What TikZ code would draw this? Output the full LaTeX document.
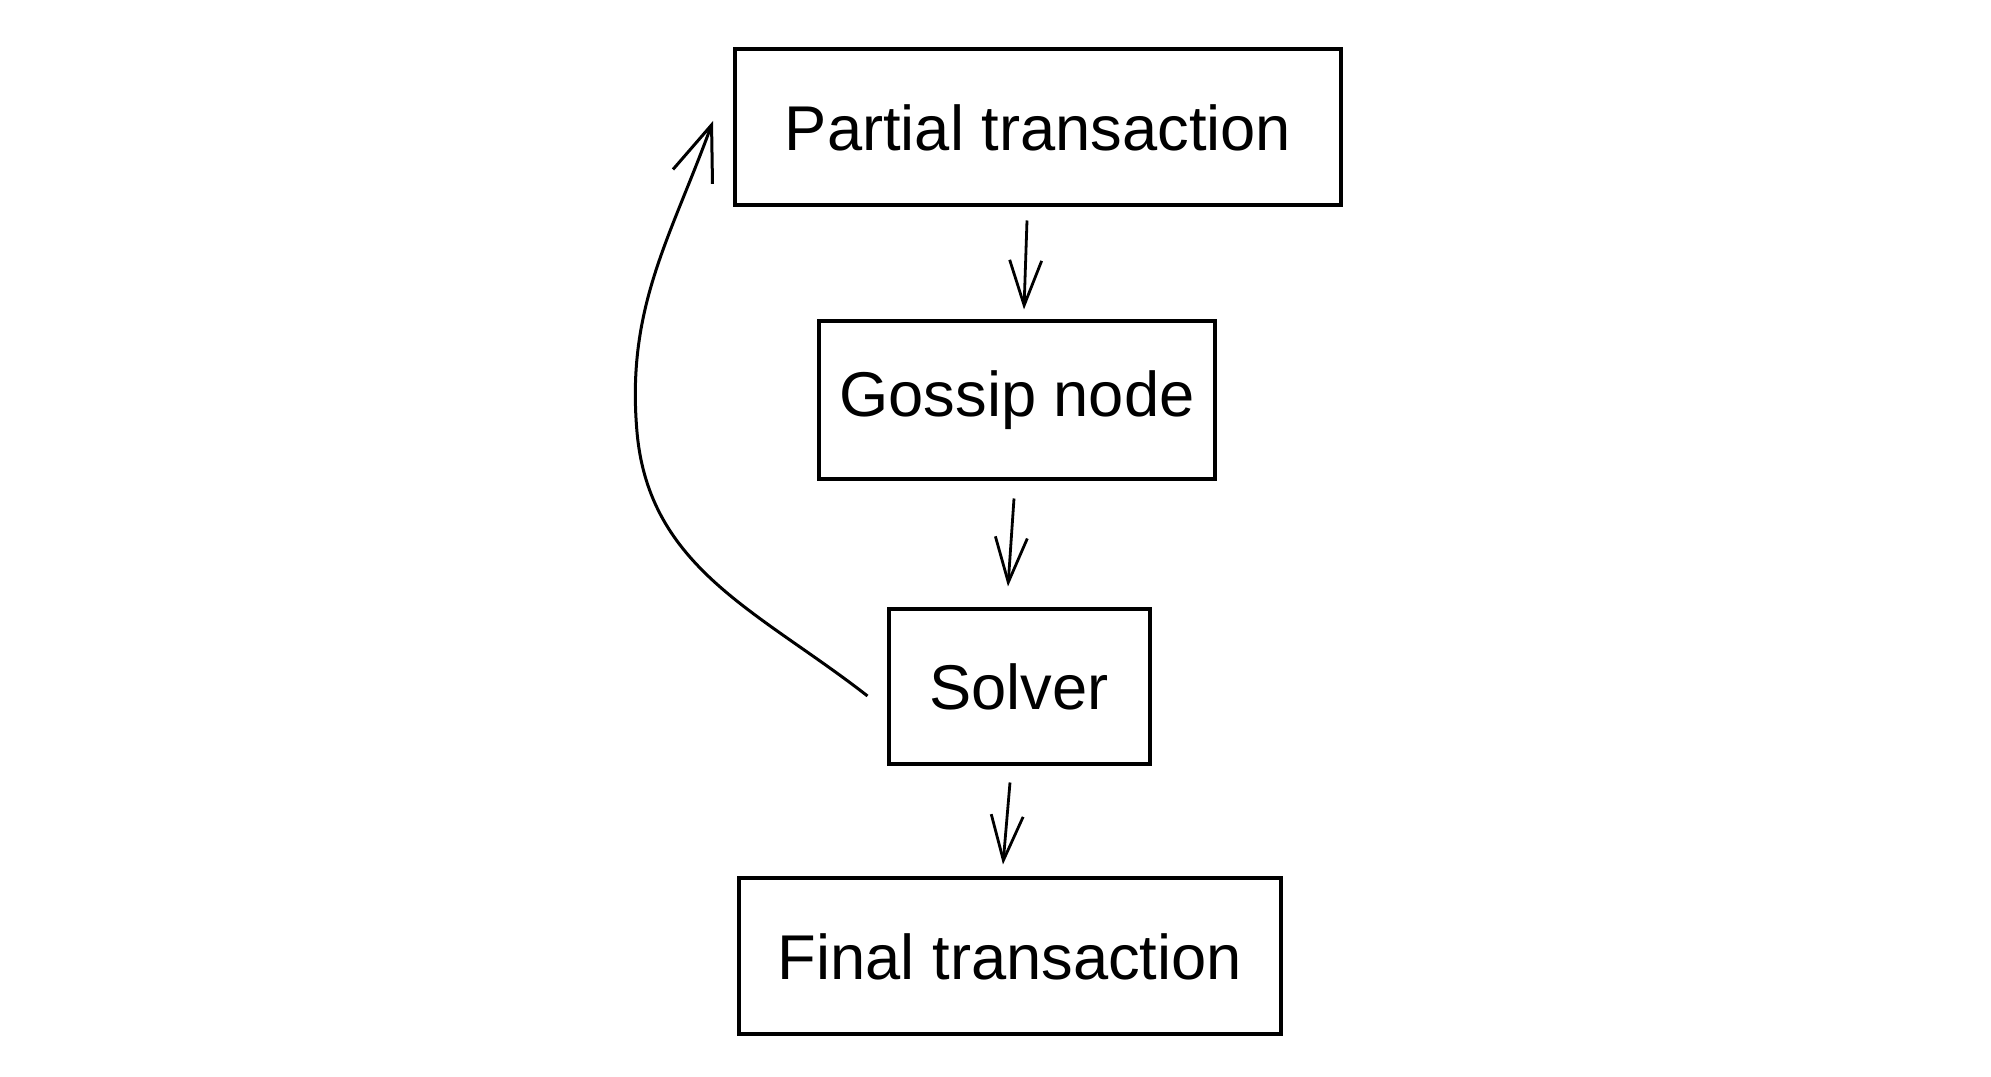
\documentclass[tikz,border=0pt]{standalone}
\usepackage{fontspec}
\setmainfont{Liberation Sans}
\usetikzlibrary{arrows.meta}
\begin{document}
\begin{tikzpicture}[
    box/.style={draw, line width = .4mm, font=\fontsize{18}{22}\selectfont},
    arr/.style={line width = .28mm, -{Straight Barb[length=4.5mm, width=3.2mm]}},
    backarr/.style={line width = .3mm, -{Straight Barb[length=5.5mm, width=4.2mm]}}
  ]
      \useasboundingbox (0, 0) rectangle (19.91, 10.77);
      %%boxes
      \node[box, minimum width=6.06cm, minimum height=1.56cm] (partial) at (10.38, 9.495) {Partial transaction};
      \node[box, minimum width=3.96cm, minimum height=1.58cm] (gossip) at (10.17, 6.765) {Gossip node};
      \node[box, minimum width=2.61cm, minimum height=1.55cm] (solver) at (10.19, 3.90) {Solver};
      \node[box, minimum width=5.42cm, minimum height=1.56cm] (final) at (10.10, 1.205) {Final transaction};

      %%down arrows
      \draw[arr]([xshift=-1.1mm, yshift=-1.3mm]partial.south) to ([xshift=.7mm, yshift=1mm]gossip.north);
      \draw[arr]([xshift=-.3mm, yshift=-1.7mm]gossip.south) to ([xshift=-1.1mm, yshift=2.1mm]solver.north);
      \draw[arr]([xshift=-.9mm, yshift=-1.6mm]solver.south) to ([xshift=-.7mm, yshift=1.2mm]final.north);

      %%back to the start
      \coordinate (bend) at (6.37, 6.45);
      \draw[backarr]([xshift=-1.9mm, yshift=-.9mm]solver.west) to[out=142, in=-85] (bend)
        to[out=95, in=-110] ([xshift=-2mm, yshift=.65mm]partial.west);
\end{tikzpicture}
\end{document}
